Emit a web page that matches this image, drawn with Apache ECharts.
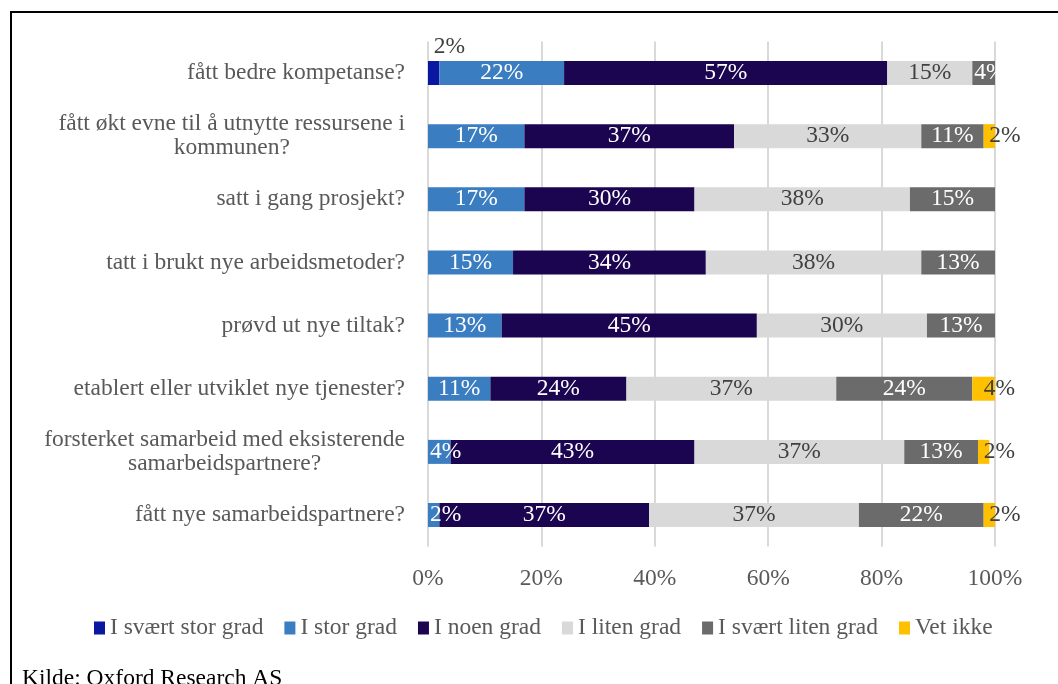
<!DOCTYPE html>
<html>
<head>
<meta charset="utf-8">
<script src="https://cdn.jsdelivr.net/npm/echarts@6/dist/echarts.min.js"></script>
<style>
  html, body { margin: 0; padding: 0; background: #fff; }
  #chart { width: 1058px; height: 684px; }
</style>
</head>
<body>
<div id="chart"></div>
<script>
// Spørsmål (kategorier), ovenfra og ned
const categories = [
  'fått bedre kompetanse?',
  'fått økt evne til å utnytte ressursene i\nkommunen?',
  'satt i gang prosjekt?',
  'tatt i brukt nye arbeidsmetoder?',
  'prøvd ut nye tiltak?',
  'etablert eller utviklet nye tjenester?',
  'forsterket samarbeid med eksisterende\nsamarbeidspartnere?',
  'fått nye samarbeidspartnere?'
];

// Andel svar (%) per svaralternativ
const svaertStorGrad  = [2, null, null, null, null, null, null, null];
const storGrad        = [22, 17, 17, 15, 13, 11, 4, 2];
const noenGrad        = [57, 37, 30, 34, 45, 24, 43, 37];
const litenGrad       = [15, 33, 38, 38, 30, 37, 37, 37];
const svaertLitenGrad = [4, 11, 15, 13, 13, 24, 13, 22];
const vetIkke         = [null, 2, null, null, null, 4, 2, 2];

const axisTicks = [0, 20, 40, 60, 80, 100];

const FONT = '"Liberation Serif", "Times New Roman", serif';
const FS = 23.5;

// Narrow segments get their label anchored at the left edge of the bar
function withNarrowLabels(data) {
  return data.map(v => (v != null && v < 5)
    ? { value: v, label: { position: 'insideLeft', distance: 2 } }
    : v);
}

function seriesDef(name, data, color, labelColor, extraLabel) {
  return {
    name: name,
    type: 'bar',
    stack: 'total',
    data: data,
    barWidth: 24,
    itemStyle: { color: color },
    label: Object.assign({
      show: true,
      position: 'inside',
      formatter: p => (p.value == null ? '' : p.value + '%'),
      color: labelColor,
      fontFamily: FONT,
      fontSize: FS
    }, extraLabel || {}),
    emphasis: { disabled: true }
  };
}

const chart = echarts.init(document.getElementById('chart'), null, { renderer: 'canvas' });

chart.setOption({
  animation: false,
  backgroundColor: '#ffffff',
  textStyle: { fontFamily: FONT },
  grid: { left: 428, right: 63, top: 41.4, bottom: 137.4, containLabel: false },
  xAxis: {
    type: 'value',
    min: axisTicks[0],
    max: axisTicks[axisTicks.length - 1],
    interval: axisTicks[1] - axisTicks[0],
    axisLine: { show: false },
    axisTick: { show: false },
    splitLine: { show: true, lineStyle: { color: '#D9D9D9', width: 2 } },
    axisLabel: {
      formatter: v => v + '%',
      color: '#595959',
      fontFamily: FONT,
      fontSize: FS,
      margin: 20
    }
  },
  yAxis: {
    type: 'category',
    inverse: true,
    data: categories,
    axisLine: { show: false },
    axisTick: { show: false },
    axisLabel: {
      color: '#595959',
      fontFamily: FONT,
      fontSize: FS,
      margin: 23,
      lineHeight: 24,
      formatter: v => v.split('\n').map(s => '{c|' + s + '}').join('\n'),
      rich: {
        c: { align: 'center', fontFamily: FONT, fontSize: FS, color: '#595959', lineHeight: 24 }
      }
    }
  },
  legend: {
    bottom: 39,
    left: 89,
    itemWidth: 11,
    itemHeight: 13,
    itemGap: 21,
    icon: 'rect',
    textStyle: { color: '#595959', fontFamily: FONT, fontSize: FS },
    data: ['I svært stor grad', 'I stor grad', 'I noen grad', 'I liten grad', 'I svært liten grad', 'Vet ikke']
  },
  graphic: [
    { type: 'line', shape: { x1: 11, y1: 12, x2: 1058, y2: 12 }, style: { stroke: '#000', lineWidth: 2 } },
    { type: 'line', shape: { x1: 11, y1: 11, x2: 11, y2: 684 }, style: { stroke: '#000', lineWidth: 2 } },
    {
      type: 'text', left: 22, top: 667,
      style: { text: 'Kilde: Oxford Research AS', fill: '#000', font: FS + 'px ' + FONT }
    }
  ],
  series: [
    seriesDef('I svært stor grad', svaertStorGrad, '#0A17A0', '#404040',
      { position: 'top', align: 'left', distance: 2 }),
    seriesDef('I stor grad', withNarrowLabels(storGrad), '#3A7DC0', '#ffffff'),
    seriesDef('I noen grad', noenGrad, '#1B0550', '#ffffff'),
    seriesDef('I liten grad', litenGrad, '#D9D9D9', '#404040'),
    seriesDef('I svært liten grad', withNarrowLabels(svaertLitenGrad), '#6B6B6B', '#ffffff'),
    seriesDef('Vet ikke', vetIkke, '#FFC000', '#404040',
      { position: ['50%', '50%'], align: 'left', verticalAlign: 'middle' })
  ]
});
</script>
</body>
</html>
